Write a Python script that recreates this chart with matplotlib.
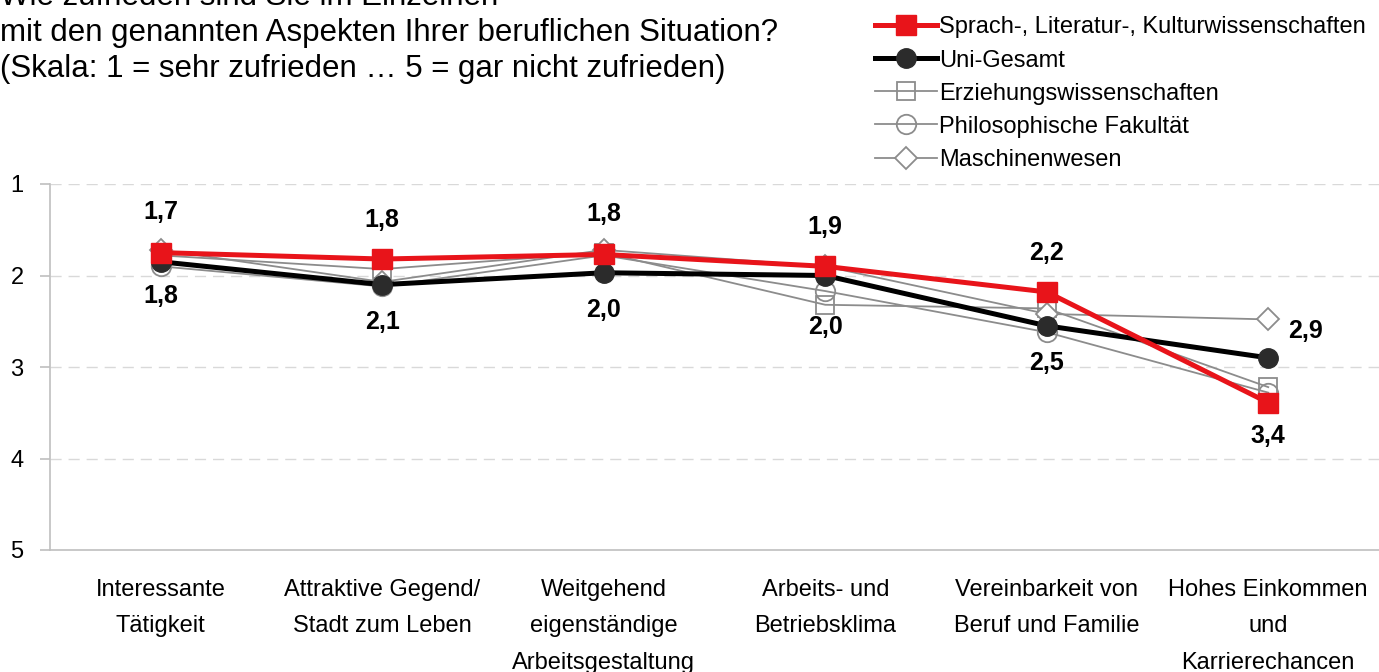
import matplotlib
matplotlib.use("Agg")
import matplotlib.pyplot as plt
import numpy as np

plt.rcParams['font.family'] = ['Liberation Sans', 'DejaVu Sans']

categories = ["Interessante\nTätigkeit", "Attraktive Gegend/\nStadt zum Leben",
              "Weitgehend\neigenständige\nArbeitsgestaltung", "Arbeits- und\nBetriebsklima",
              "Vereinbarkeit von\nBeruf und Familie", "Hohes Einkommen\nund\nKarrierechancen"]
sprach = [1.75, 1.82, 1.77, 1.90, 2.18, 3.39]
uni = [1.85, 2.10, 1.97, 2.00, 2.55, 2.90]
erz = [1.78, 1.93, 1.75, 2.32, 2.36, 3.22]
phil = [1.90, 2.12, 1.78, 2.17, 2.62, 3.28]
masch = [1.72, 2.07, 1.72, 1.90, 2.42, 2.48]
sprach_labels = ["1,7", "1,8", "1,8", "1,9", "2,2", "3,4"]
uni_labels = ["1,8", "2,1", "2,0", "2,0", "2,5", "2,9"]
yticks = [1, 2, 3, 4, 5]

fig = plt.figure(figsize=(13.79, 6.72), dpi=100)
ax = fig.add_axes([50/1379, 1-550/672, 1-50/1379, (550-184)/672])
x = np.arange(len(categories))

gray = '#8c8c8c'
l3, = ax.plot(x, erz, color=gray, lw=1.3, marker='s', ms=13, mfc='none', mec=gray, mew=1.3, label='Erziehungswissenschaften', zorder=3)
l4, = ax.plot(x, phil, color=gray, lw=1.3, marker='o', ms=14, mfc='none', mec=gray, mew=1.3, label='Philosophische Fakultät', zorder=3)
l5, = ax.plot(x, masch, color=gray, lw=1.3, marker='D', ms=11, mfc='white', mec=gray, mew=1.3, label='Maschinenwesen', zorder=3)
l2, = ax.plot(x, uni, color='black', lw=3.6, marker='o', ms=14, mfc='#2b2b2b', mec='#2b2b2b', label='Uni-Gesamt', zorder=4)
l1, = ax.plot(x, sprach, color='#e8141a', lw=3.6, marker='s', ms=14, mfc='#e8141a', mec='#e8141a', label='Sprach-, Literatur-, Kulturwissenschaften', zorder=5)

lab_kw = dict(textcoords='offset points', ha='center', va='center', fontsize=18, fontweight='bold')
sprach_off = [(0, 29), (0, 28), (0, 29), (0, 28), (0, 28), (0, -24)]
uni_off = [(0, -25), (0, -27), (0, -27), (0, -37), (0, -27), (27, 19)]
for i in range(len(x)):
    ax.annotate(sprach_labels[i], (x[i], sprach[i]), xytext=sprach_off[i], **lab_kw)
    ax.annotate(uni_labels[i], (x[i], uni[i]), xytext=uni_off[i], **lab_kw)

ax.set_xlim(-0.5, 5.5)
ax.set_ylim(5, 1)
ax.set_yticks(yticks)
ax.set_yticklabels([str(v) for v in yticks], fontsize=17)
ax.set_xticks(x)
ax.set_xticklabels(categories, fontsize=17, linespacing=1.84, va='top')
ax.tick_params(axis='x', length=0, pad=21)
ax.tick_params(axis='y', length=7, color='#bfbfbf', width=1.2, pad=12)
for yv in yticks[:-1]:
    ax.axhline(yv, color='#d9d9d9', lw=1, ls=(0, (8, 5)), zorder=0)
for s in ['top', 'right']:
    ax.spines[s].set_visible(False)
ax.spines['left'].set_color('#bfbfbf')
ax.spines['bottom'].set_color('#bfbfbf')
ax.spines['left'].set_linewidth(1.2)
ax.spines['bottom'].set_linewidth(1.2)

fig.text(0.0, 1 - 33/672, "Wie zufrieden sind Sie im Einzelnen\nmit den genannten Aspekten Ihrer beruflichen Situation?\n(Skala: 1 = sehr zufrieden … 5 = gar nicht zufrieden)",
         ha='left', va='center', fontsize=22.5, linespacing=1.28, transform=fig.transFigure)

leg = fig.legend(handles=[l1, l2, l3, l4, l5], loc='upper left', bbox_to_anchor=(866/1379, 1 - 7/672),
                 frameon=False, fontsize=17, handlelength=2.6, handletextpad=0.1, labelspacing=0.47,
                 borderaxespad=0)

fig.savefig('out.png', dpi=100)
